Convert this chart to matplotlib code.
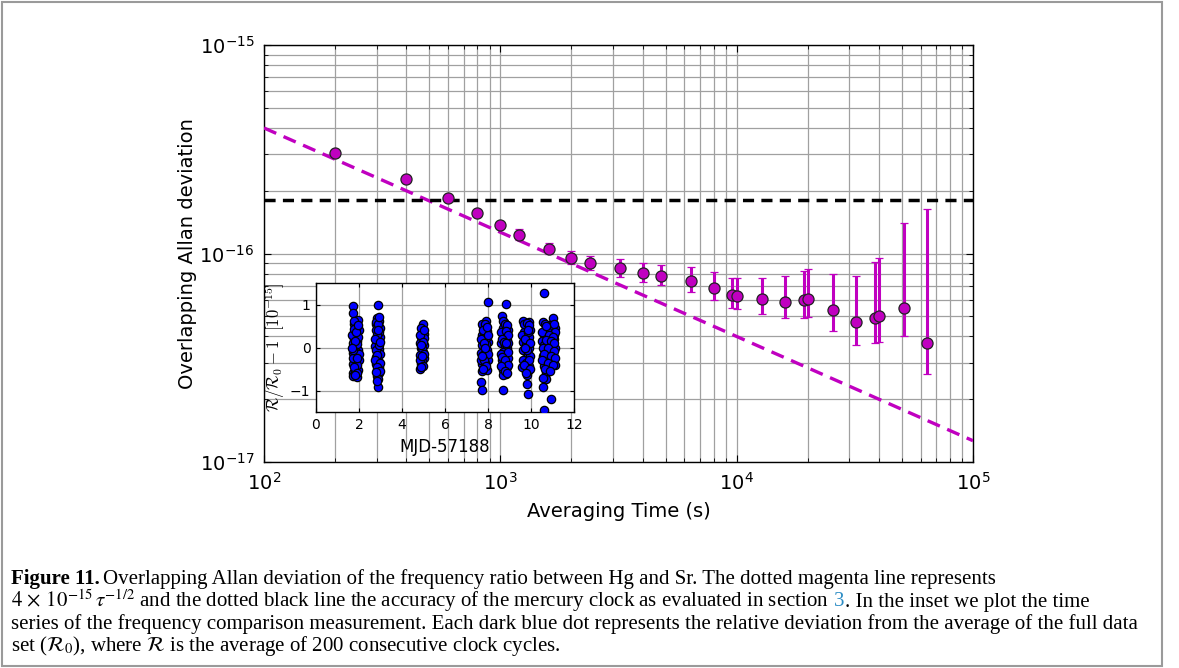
import matplotlib
matplotlib.use('Agg')
import matplotlib.pyplot as plt
from matplotlib.patches import Rectangle
from matplotlib.ticker import FixedLocator

# ---------------- data ----------------
tau = [200, 400, 600, 800, 1000, 1200, 1600, 2000, 2400, 3200, 4000, 4800, 6400,
       8000, 9600, 10000, 12800, 16000, 19200, 20000, 25600, 32000, 38400, 40000,
       51200, 64000]
adev = [3.03e-16, 2.27e-16, 1.85e-16, 1.56e-16, 1.37e-16, 1.23e-16, 1.055e-16,
        9.51e-17, 8.97e-17, 8.49e-17, 8.06e-17, 7.83e-17, 7.38e-17, 6.85e-17,
        6.30e-17, 6.24e-17, 6.05e-17, 5.88e-17, 5.98e-17, 6.05e-17, 5.35e-17,
        4.68e-17, 4.92e-17, 5.00e-17, 5.50e-17, 3.71e-17]
adev_hi = [3.10e-16, 2.31e-16, 1.89e-16, 1.60e-16, 1.41e-16, 1.31e-16, 1.127e-16,
           1.031e-16, 9.76e-17, 9.38e-17, 9.03e-17, 8.84e-17, 8.59e-17, 8.15e-17,
           7.65e-17, 7.60e-17, 7.65e-17, 7.77e-17, 8.24e-17, 8.39e-17, 8.00e-17,
           7.77e-17, 9.13e-17, 9.48e-17, 1.40e-16, 1.64e-16]
adev_lo = [2.97e-16, 2.23e-16, 1.81e-16, 1.52e-16, 1.33e-16, 1.16e-16, 9.94e-17,
           8.91e-17, 8.33e-17, 7.74e-17, 7.30e-17, 7.04e-17, 6.54e-17, 5.98e-17,
           5.46e-17, 5.40e-17, 5.13e-17, 4.92e-17, 4.92e-17, 4.94e-17, 4.26e-17,
           3.65e-17, 3.72e-17, 3.75e-17, 4.02e-17, 2.64e-17]

white_noise_coeff = 4e-15       # 4e-15 * tau^-1/2
accuracy_level = 1.8e-16        # Hg clock accuracy
line_tau = [1e2, 1e5]
main_xticks = [1e2, 1e3, 1e4, 1e5]
main_yticks = [1e-17, 1e-16, 1e-15]

# inset: time series (MJD-57188, R/R0-1 in units of 1e-15)
s1_mjd = [1.72, 1.72, 1.75, 1.80, 1.95, 1.92, 1.78, 1.85, 1.75, 1.98, 1.70, 1.82, 1.90,
          1.76, 1.95, 1.72, 1.88, 1.80, 1.98, 1.74, 1.85, 1.96, 1.70, 1.72, 1.90, 1.78,
          1.95, 1.85, 1.80, 1.92, 1.68, 1.88, 1.93, 1.78, 1.70, 1.98, 1.83, 1.75, 1.90,
          1.86, 1.73, 1.97, 1.80, 1.92, 1.68]
s1_dev = [0.96, 0.81, 0.55, 0.45, 0.63, 0.50, 0.35, 0.28, 0.20, 0.40, 0.10, 0.05, 0.15,
          -0.02, -0.05, -0.12, -0.20, -0.28, -0.30, -0.38, -0.45, -0.52, -0.60, -0.67,
          -0.69, 0.62, 0.25, -0.10, -0.55, -0.40, 0.30, 0.45, 0.08, -0.45, -0.25, -0.15,
          0.15, 0.42, -0.60, 0.35, -0.05, 0.52, -0.65, -0.25, 0.00]
s2_mjd = [2.90, 2.85, 2.95, 2.80, 2.92, 2.78, 2.88, 2.96, 2.82, 2.90, 2.76, 2.94, 2.84,
          2.98, 2.80, 2.90, 2.78, 2.95, 2.86, 2.92, 2.82, 2.90, 2.88, 2.97, 2.80, 2.93,
          2.78, 2.88, 2.95, 2.84, 2.76, 2.97, 2.86, 2.76, 2.96, 2.82, 2.98, 2.80, 2.94,
          2.85, 2.90]
s2_dev = [0.99, 0.68, 0.62, 0.55, 0.48, 0.40, 0.33, 0.25, 0.18, 0.10, 0.03, -0.03, -0.10,
          -0.15, -0.22, -0.30, -0.38, -0.45, -0.52, -0.60, -0.66, -0.73, -0.91, 0.45,
          -0.05, 0.05, 0.60, 0.55, 0.35, 0.28, 0.20, 0.12, -0.18, -0.30, -0.35, -0.45,
          -0.55, -0.58, 0.72, -0.78, 0.40]
s3_mjd = [4.98, 4.92, 5.00, 4.88, 4.95, 4.85, 5.02, 4.90, 4.97, 4.86, 5.00, 4.92, 4.88,
          4.83, 4.95, 5.03, 4.90, 4.85, 4.98, 4.88, 5.02, 4.84, 4.96, 4.90, 5.00, 4.93]
s3_dev = [0.55, 0.40, 0.32, 0.25, 0.18, 0.10, 0.05, -0.02, -0.10, -0.18, -0.25, -0.32,
          -0.38, -0.51, 0.00, 0.22, 0.45, 0.30, 0.12, 0.05, -0.15, -0.28, -0.42, -0.45,
          0.40, -0.20]
s4_mjd = [7.98, 7.92, 7.75, 7.85, 7.95, 7.70, 7.80, 7.90, 8.00, 7.72, 7.85, 7.95, 7.68,
          7.78, 7.90, 8.00, 7.74, 7.85, 7.95, 7.70, 7.68, 7.72, 7.82, 7.88, 7.92, 7.70,
          7.88, 7.78, 7.96, 7.66, 7.82, 7.98, 7.66, 7.82, 7.92, 7.76, 8.00, 7.88, 7.73,
          7.95]
s4_dev = [1.05, 0.62, 0.50, 0.45, 0.38, 0.30, 0.25, 0.18, 0.12, 0.05, 0.00, -0.05, -0.12,
          -0.18, -0.25, -0.30, -0.38, -0.45, -0.52, -0.55, -0.80, -0.98, 0.35, -0.35, 0.08,
          0.55, 0.55, 0.40, 0.25, 0.20, 0.10, -0.15, -0.28, -0.30, -0.42, -0.50, 0.30,
          0.00, -0.20, 0.48]
s5_mjd = [8.86, 8.65, 8.75, 8.85, 8.68, 8.92, 8.72, 8.80, 8.90, 8.62, 8.78, 8.88, 8.70,
          8.82, 8.92, 8.65, 8.76, 8.88, 8.70, 8.82, 8.72, 8.68, 8.95, 8.60, 8.70, 8.80,
          8.90, 8.62, 8.85, 8.94, 8.66, 8.74, 8.86, 8.94, 8.66, 8.80, 8.92, 8.62, 8.78,
          8.90]
s5_dev = [1.02, 0.73, 0.60, 0.52, 0.45, 0.40, 0.32, 0.25, 0.18, 0.10, 0.05, -0.02, -0.10,
          -0.18, -0.25, -0.30, -0.38, -0.45, -0.52, -0.62, -0.63, -0.98, 0.10, -0.15,
          0.62, 0.55, 0.52, 0.35, 0.38, 0.28, 0.20, 0.12, 0.10, -0.10, -0.22, -0.28,
          -0.40, -0.42, -0.55, -0.60]
s6_mjd = [9.65, 9.90, 9.72, 9.82, 9.95, 9.68, 9.78, 9.88, 9.62, 9.75, 9.92, 9.70, 9.85,
          9.95, 9.65, 9.78, 9.90, 9.72, 9.85, 9.80, 9.82, 9.88, 9.60, 9.93, 9.68, 9.80,
          9.92, 9.60, 9.85, 9.72, 9.95, 9.62, 9.80, 9.90, 9.68, 9.95, 9.75, 9.88, 9.70]
s6_dev = [0.62, 0.60, 0.52, 0.48, 0.40, 0.35, 0.28, 0.20, 0.12, 0.05, 0.00, -0.08, -0.15,
          -0.20, -0.28, -0.35, -0.42, -0.50, -0.55, -0.65, -0.85, -1.08, -0.45, 0.25,
          0.55, 0.58, 0.52, 0.30, 0.35, 0.20, 0.10, -0.05, -0.05, -0.28, -0.40, -0.50,
          -0.60, 0.40, 0.00]
s7_mjd = [10.62, 11.00, 10.55, 10.85, 10.70, 11.10, 10.95, 10.60, 10.80, 11.05, 10.50,
          10.75, 10.90, 11.12, 10.65, 10.85, 11.00, 10.55, 10.72, 10.95, 11.10, 10.62,
          10.80, 10.68, 10.72, 10.58, 10.95, 10.62, 11.08, 10.90, 10.60, 10.65, 10.90,
          11.05, 10.75, 11.12, 10.52, 10.85, 11.00, 10.68, 10.92, 11.08, 10.55, 10.80,
          11.05, 10.62, 10.95, 11.10, 10.50, 10.78, 11.02, 10.65, 10.88, 10.70, 10.58]
s7_dev = [1.27, 0.68, 0.60, 0.52, 0.45, 0.45, 0.38, 0.30, 0.25, 0.20, 0.15, 0.10, 0.05,
          0.00, -0.05, -0.10, -0.15, -0.20, -0.25, -0.30, -0.40, -0.42, -0.48, -0.60,
          -0.73, -0.93, -1.19, -1.45, 0.30, -0.45, 0.05, 0.55, 0.45, 0.55, 0.38, 0.35,
          0.35, 0.30, 0.25, 0.18, 0.15, 0.10, 0.00, -0.02, -0.08, -0.15, -0.20, -0.25,
          -0.30, -0.35, -0.40, -0.50, -0.55, 0.50, -0.70]

inset_xticks = [0, 2, 4, 6, 8, 10, 12]
inset_yticks = [-1, 0, 1]

# ---------------- figure ----------------
W, H = 1179, 668
fig = plt.figure(figsize=(W / 100, H / 100), dpi=100)
fig.patch.set_facecolor('white')


def fx(px):
    return px / W


def fy(py):
    return 1 - py / H


MAG = '#c000c0'
GRID = '#a0a0a0'

ax = fig.add_axes([fx(264), fy(462), fx(973) - fx(264), fy(45) - fy(462)])
ax.set_xscale('log')
ax.set_yscale('log')
ax.set_xlim(1e2, 1e5)
ax.set_ylim(1e-17, 1e-15)
ax.xaxis.set_major_locator(FixedLocator(main_xticks))
ax.yaxis.set_major_locator(FixedLocator(main_yticks))
ax.grid(True, which='both', color=GRID, lw=0.9, ls='-')
ax.set_axisbelow(True)

wn = [white_noise_coeff * t ** -0.5 for t in line_tau]
ax.plot(line_tau, wn, ls='--', color=MAG, lw=2.4, dashes=(4.0, 2.4), zorder=3)
ax.plot(line_tau, [accuracy_level, accuracy_level], color='k', lw=2.5,
        dashes=(3.2, 2.1), zorder=3)

yerr = [[a - l for a, l in zip(adev, adev_lo)], [h - a for a, h in zip(adev, adev_hi)]]
ax.errorbar(tau, adev, yerr=yerr, fmt='o', color=MAG, ecolor=MAG, mfc=MAG,
            mec='#222222', mew=0.9, ms=8, elinewidth=2.2, capsize=3, capthick=1.8,
            zorder=4)

ax.tick_params(which='both', direction='in', top=True, right=True, labelsize=14)
ax.tick_params(which='major', length=5, pad=7)
ax.tick_params(which='minor', length=3)
ax.set_xlabel('Averaging Time (s)', fontsize=14, labelpad=6)
ax.set_ylabel('Overlapping Allan deviation', fontsize=14, labelpad=2)
for s in ax.spines.values():
    s.set_linewidth(1.0)

# ---------------- inset ----------------
axi = fig.add_axes([fx(316), fy(412), fx(574) - fx(316), fy(283) - fy(412)])
axi.set_facecolor('white')
axi.grid(True, color=GRID, lw=0.9)
axi.set_axisbelow(True)
for m, d in [(s1_mjd, s1_dev), (s2_mjd, s2_dev), (s3_mjd, s3_dev), (s4_mjd, s4_dev),
             (s5_mjd, s5_dev), (s6_mjd, s6_dev), (s7_mjd, s7_dev)]:
    axi.plot(m, d, 'o', mfc='#0000ff', mec='k', mew=0.9, ms=6, ls='none', zorder=3)
axi.set_xlim(0, 12)
axi.set_ylim(-1.5, 1.5)
axi.set_xticks(inset_xticks)
axi.set_yticks(inset_yticks)
axi.tick_params(direction='in', top=True, right=True, labelsize=10, pad=4, length=3)
axi.set_xlabel('MJD-57188', fontsize=12, labelpad=5)
axi.set_ylabel(r'$\mathcal{R}/\mathcal{R}_0-1\ \ [10^{-15}]$', fontsize=12,
               labelpad=2, math_fontfamily='cm')
for s in axi.spines.values():
    s.set_linewidth(1.0)

# ---------------- caption ----------------
SERIF = ['Liberation Serif', 'DejaVu Serif']
CAP = 15
GAP = 0.25 * CAP * 100 / 72
r = fig.canvas.get_renderer()


def put(x_px, y_px, txt, **kw):
    t = fig.text(fx(x_px), fy(y_px), txt, fontsize=CAP, family=SERIF,
                 math_fontfamily='stix', va='baseline', ha='left', **kw)
    bb = t.get_window_extent(r)
    return bb.x1


X0 = 11
x = put(X0, 584, 'Figure 11.', weight='bold')
put(x + GAP * 0.6, 584, 'Overlapping Allan deviation of the frequency ratio between Hg and Sr. '
    'The dotted magenta line represents')
x = put(X0, 606.5, r'$4\,\times\,10^{-15}\,\tau^{-1/2}$ and the dotted black line the accuracy '
        'of the mercury clock as evaluated in section')
x = put(x + GAP, 606.5, '3', color='#2b8cc4')
put(x, 606.5, '. In the inset we plot the time')
put(X0, 629, 'series of the frequency comparison measurement. Each dark blue dot represents '
    'the relative deviation from the average of the full data')
put(X0, 651.5, r'set ($\mathcal{R}_0$), where $\mathcal{R}$ is the average of 200 consecutive '
    'clock cycles.')

# frame
fig.patches.append(Rectangle((fx(2), fy(666)), fx(1162) - fx(2), fy(2) - fy(666),
                             transform=fig.transFigure, fill=False,
                             edgecolor='#9a9a9a', lw=1.5))

fig.savefig('out.png', dpi=100)
